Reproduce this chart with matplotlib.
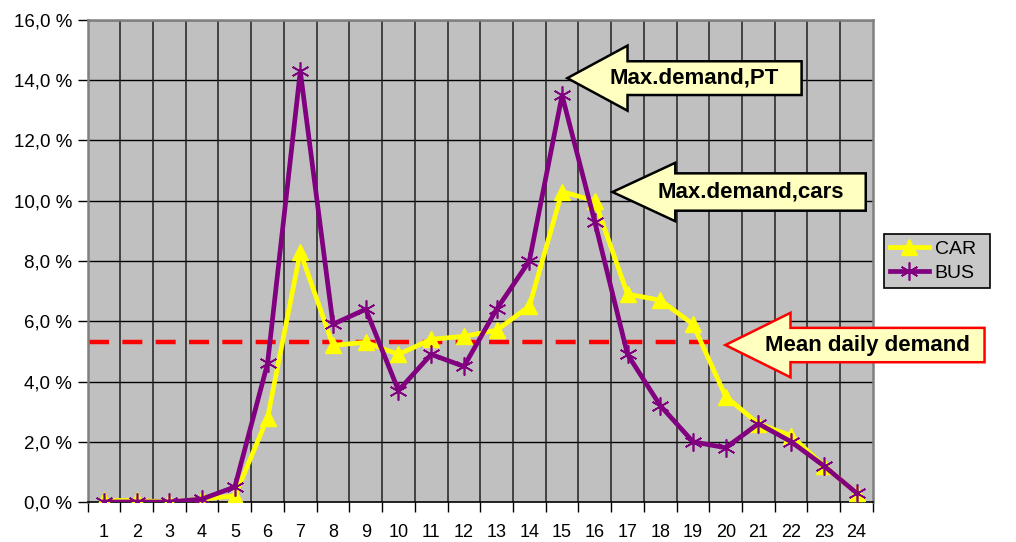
import numpy as np
import matplotlib
matplotlib.use("Agg")
import matplotlib.pyplot as plt
from matplotlib.patches import Polygon

plt.rcParams["font.family"] = ["Liberation Sans", "DejaVu Sans"]

# data (share of daily trips per hour, %)
hours = list(range(1, 25))
car = [0.05, 0.05, 0.0, 0.1, 0.2, 2.8, 8.3, 5.2, 5.3, 4.9, 5.4, 5.5,
       5.7, 6.5, 10.3, 10.0, 6.9, 6.7, 5.9, 3.5, 2.6, 2.2, 1.2, 0.3]
bus = [0.0, 0.0, 0.0, 0.1, 0.5, 4.6, 14.3, 5.9, 6.4, 3.7, 4.9, 4.5,
       6.4, 8.0, 13.5, 9.3, 4.9, 3.2, 2.0, 1.8, 2.6, 2.0, 1.2, 0.3]
mean_demand = 5.32
yticks = np.arange(0, 17, 2)

fig = plt.figure(figsize=(10.16, 5.42), dpi=100)
ax = fig.add_axes([0.0862, 0.0738, 0.7730, 0.8893])
ax.set_facecolor("#C0C0C0")

# mean line
ax.plot([0.55, 19.5], [mean_demand, mean_demand], color="#FF0000", lw=3.2,
        dashes=(4.5, 3.0), zorder=2)

ax.plot(hours, car, color="#FFFF00", lw=3.4, marker="^", ms=11,
        mec="#FFFF00", mfc="#FFFF00", label="CAR", zorder=3)
ax.plot(hours, bus, color="#800080", lw=3.4, marker=(6, 2, 0), ms=13,
        mec="#800080", mew=1.2, label="BUS", zorder=4)

ax.set_xlim(0.5, 24.5)
ax.set_ylim(0, 16)
ax.set_yticks(yticks)
ax.set_yticklabels([f"{v:.1f} %".replace(".", ",") for v in yticks])
ax.set_xticks(hours)
ax.set_xticks(np.arange(0.5, 25, 1), minor=True)
ax.tick_params(axis="x", which="major", length=0, pad=16, labelsize=13)
ax.tick_params(axis="x", which="minor", length=7, width=1, color="black")
ax.tick_params(axis="y", length=7, width=1, labelsize=13.5, pad=4)

for v in yticks[1:]:
    ax.axhline(v, color="black", lw=1, zorder=1)
for b in np.arange(1.5, 24.5, 1):
    ax.axvline(b, color="#202020", lw=1.1, zorder=1)
for s in ["left", "top", "right"]:
    ax.spines[s].set_color("#808080")
    ax.spines[s].set_linewidth(1.8)
ax.spines["bottom"].set_color("black")
ax.spines["bottom"].set_linewidth(1.2)


def callout(tip_x, tip_y, back_x, head_h, body_h, right_x, text, text_x, ec):
    pts = [(tip_x, tip_y),
           (back_x, tip_y + head_h),
           (back_x, tip_y + body_h),
           (right_x, tip_y + body_h),
           (right_x, tip_y - body_h),
           (back_x, tip_y - body_h),
           (back_x, tip_y - head_h)]
    poly = Polygon(pts, closed=True, fc="#FFFFC0", ec=ec, lw=1.8,
                   clip_on=False, zorder=6)
    ax.add_patch(poly)
    ax.text(text_x, tip_y, text, ha="center", va="center", fontsize=16,
            fontweight="bold", color="black", clip_on=False, zorder=7)


callout(15.16, 14.07, 17.0, 1.08, 0.56, 22.32, "Max.demand,PT", 19.04, "black")
callout(16.54, 10.29, 18.46, 0.97, 0.62, 24.28, "Max.demand,cars", 20.76, "black")
callout(19.99, 5.21, 21.98, 1.07, 0.57, 27.91, "Mean daily demand", 24.33, "#FF0000")

leg = ax.legend(loc="center left", bbox_to_anchor=(0.8701, 0.465, 0.104, 0.107),
                bbox_transform=fig.transFigure, mode="expand", frameon=True,
                fancybox=False, fontsize=14, handlelength=2.0,
                borderpad=0.3, labelspacing=0.35, handletextpad=0.3,
                borderaxespad=0)
leg.get_frame().set_facecolor("#C8C8C8")
leg.get_frame().set_edgecolor("black")
leg.get_frame().set_linewidth(1.2)
leg.get_frame().set_alpha(1)

fig.savefig("out.png", dpi=100)
